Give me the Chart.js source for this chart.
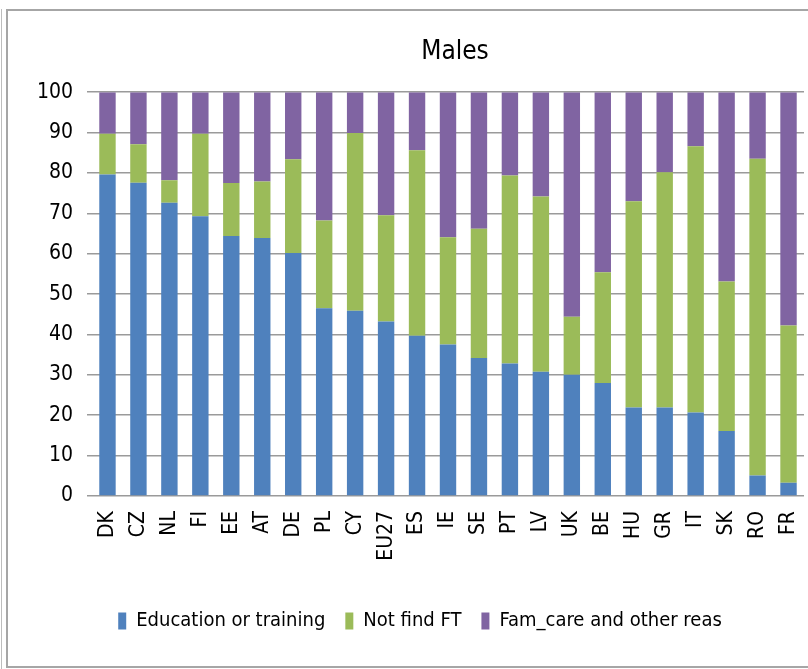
<!DOCTYPE html>
<html>
<head>
<meta charset="utf-8">
<script src="https://cdn.jsdelivr.net/npm/chart.js@4"></script>
<style>
html,body{margin:0;padding:0;background:#fff;overflow:hidden;}
#wrap{position:relative;width:808px;height:669px;}
#frame{position:absolute;left:6px;top:9px;width:900px;height:655px;border:2px solid #a6a6a6;}
#edge{position:absolute;left:1px;top:9px;width:1px;height:660px;background:#bdbdbd;}
canvas{position:absolute;left:0;top:0;}
</style>
</head>
<body>
<div id="wrap">
<div id="edge"></div>
<div id="frame"></div>
<canvas id="males" width="808" height="669"></canvas>
</div>
<script>
document.addEventListener("DOMContentLoaded", function(){

const countries = ["DK","CZ","NL","FI","EE","AT","DE","PL","CY","EU27","ES","IE","SE","PT","LV","UK","BE","HU","GR","IT","SK","RO","FR"];

const education = [79.6,77.6,72.6,69.3,64.4,63.9,60.2,46.5,45.9,43.2,39.7,37.5,34.2,32.8,30.8,30.0,28.0,21.9,21.9,20.7,16.1,5.1,3.3];
const notFindFT = [10.1,9.5,5.6,20.4,13.1,14.0,23.2,21.7,44.0,26.3,45.9,26.6,32.0,46.6,43.4,14.4,27.4,51.1,58.3,65.9,37.0,78.4,38.9];
const famCare = [10.3,12.9,21.8,10.3,22.5,22.1,16.6,31.8,10.1,30.5,14.4,35.9,33.8,20.6,25.8,55.6,44.6,27.0,19.8,13.4,46.9,16.5,57.8];

const fontFam = "'DejaVu Sans Condensed','Liberation Sans',sans-serif";
Chart.defaults.font.family = fontFam;
Chart.defaults.color = "#000";

// move title and legend sideways to where the original has them
const shiftBlocks = {
id:"shiftBlocks",
afterLayout:function(chart){
const t = chart.titleBlock;
const tdx = 455 - (t.left + t.right) / 2;
t.left += tdx; t.right += tdx;
const lg = chart.legend;
const dx = 420 - (lg.left + lg.right) / 2;
lg.left += dx; lg.right += dx;
}
};

const malesChart = new Chart(
document.getElementById("males"),
{
type:"bar",

data:{
labels:countries,
datasets:[
{label:"Education or training",data:education,backgroundColor:"#4f81bd"},
{label:"Not find FT",data:notFindFT,backgroundColor:"#9bbb59"},
{label:"Fam_care and other reas",data:famCare,backgroundColor:"#8064a2"}
]
},

plugins:[shiftBlocks],

options:{
responsive:false,
animation:false,
layout:{padding:{left:0,right:4,top:0,bottom:28}},
datasets:{bar:{barPercentage:0.53,categoryPercentage:1.0,borderWidth:0}},

plugins:{
title:{
display:true,
text:"Males",
color:"#000",
font:{size:26,weight:"normal"},
padding:{top:37,bottom:24}
},
legend:{
position:"bottom",
labels:{
color:"#000",
font:{size:20},
boxWidth:8,
boxHeight:17,
padding:20
}
},
tooltip:{enabled:false}
},

scales:{
x:{
stacked:true,
grid:{display:false},
border:{display:false},
ticks:{
color:"#000",
font:{size:21},
maxRotation:90,
minRotation:90,
autoSkip:false,
padding:7
},
afterFit:function(s){
s.height = 95;
s.paddingLeft = 0;
s.paddingRight = 0;
}
},
y:{
stacked:true,
min:0,
max:100,
border:{display:false},
grid:{color:"#9a9a9a",lineWidth:1.5,tickLength:5},
ticks:{
color:"#000",
font:{size:21},
stepSize:10,
padding:14
},
afterFit:function(s){ s.width = 92; }
}
}
}
}
);

});
</script>
</body>
</html>
